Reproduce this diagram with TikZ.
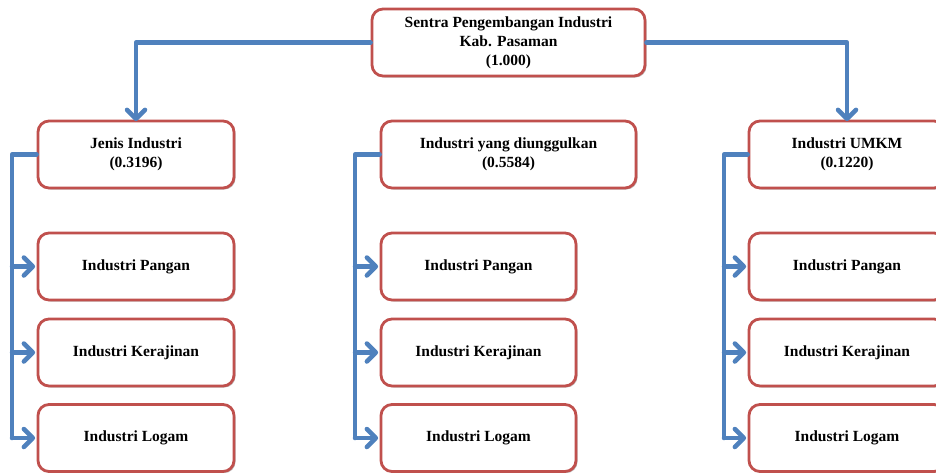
\documentclass[tikz,border=0pt]{standalone}
\usepackage{fontspec}
\setmainfont{Liberation Serif}
\usetikzlibrary{arrows.meta,shadows}
\definecolor{linkblue}{RGB}{79,129,189}
\definecolor{boxred}{RGB}{192,80,77}
\begin{document}
\begin{tikzpicture}[x=1pt,y=-1pt,
  box/.style={draw=boxred, line width=2.8pt, rounded corners=11pt, fill=white,
    align=center, font=\fontsize{15.5}{19}\selectfont\bfseries, inner sep=0pt,
    minimum height=67pt,
    drop shadow={shadow xshift=1.5pt, shadow yshift=-1.5pt, opacity=0.25, fill=black}},
  line/.style={draw=linkblue, line width=4.5pt, line join=round, line cap=round},
  link/.style={line, -{Straight Barb[length=9pt, width=18pt, line cap=round, line join=round]}}
]
\useasboundingbox (0,0) rectangle (936,472);
\clip (0,0) rectangle (936,472);
% top
\node[box, minimum width=273pt] (top) at (508.5,42.5) {Sentra Pengembangan Industri\\Kab. Pasaman\\(1.000)};
% level 2
\node[box, minimum width=196pt] (jenis) at (136,154.5) {Jenis Industri\\(0.3196)};
\node[box, minimum width=255pt] (unggul) at (508.5,154.5) {Industri yang diunggulkan\\(0.5584)};
\node[box, minimum width=196pt] (umkm) at (847,154.5) {Industri UMKM\\(0.1220)};
% children
\node[box, minimum width=196pt] (jp) at (136,266.5) {Industri Pangan};
\node[box, minimum width=196pt] (jk) at (136,352.5) {Industri Kerajinan};
\node[box, minimum width=196pt] (jl) at (136,438) {Industri Logam};
\node[box, minimum width=195pt] (up) at (478.5,266.5) {Industri Pangan};
\node[box, minimum width=195pt] (uk) at (478.5,352.5) {Industri Kerajinan};
\node[box, minimum width=195pt] (ul) at (478.5,438) {Industri Logam};
\node[box, minimum width=196pt] (mp) at (847,266.5) {Industri Pangan};
\node[box, minimum width=196pt] (mk) at (847,352.5) {Industri Kerajinan};
\node[box, minimum width=196pt] (ml) at (847,438) {Industri Logam};
% spines
\coordinate (sj) at (12,0);
\coordinate (su) at (355,0);
\coordinate (sm) at (724,0);
% top connectors
\draw[link] (top.west) -| ([yshift=-1.5pt]jenis.north);
\draw[link] (top.east) -| ([yshift=-1.5pt]umkm.north);
% left column
\draw[line] (jenis.west) -- (sj |- jenis.west) -- (sj |- jl.west);
\draw[link] (sj |- jp.west) -- ([xshift=-1.5pt]jp.west);
\draw[link] (sj |- jk.west) -- ([xshift=-1.5pt]jk.west);
\draw[link] (sj |- jl.west) -- ([xshift=-1.5pt]jl.west);
% middle column
\draw[line] (unggul.west) -- (su |- unggul.west) -- (su |- ul.west);
\draw[link] (su |- up.west) -- ([xshift=-1.5pt]up.west);
\draw[link] (su |- uk.west) -- ([xshift=-1.5pt]uk.west);
\draw[link] (su |- ul.west) -- ([xshift=-1.5pt]ul.west);
% right column
\draw[line] (umkm.west) -- (sm |- umkm.west) -- (sm |- ml.west);
\draw[link] (sm |- mp.west) -- ([xshift=-1.5pt]mp.west);
\draw[link] (sm |- mk.west) -- ([xshift=-1.5pt]mk.west);
\draw[link] (sm |- ml.west) -- ([xshift=-1.5pt]ml.west);
\end{tikzpicture}
\end{document}
